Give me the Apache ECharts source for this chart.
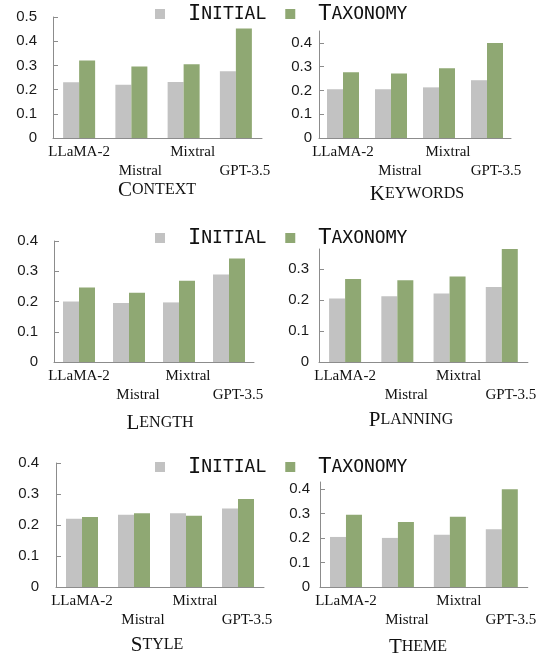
<!DOCTYPE html>
<html>
<head>
<meta charset="utf-8">
<script src="https://cdn.jsdelivr.net/npm/echarts@6/dist/echarts.min.js"></script>
<style>
  html, body { margin: 0; padding: 0; background: #fff; }
  #chart { width: 539px; height: 658px; }
</style>
</head>
<body>
<div id="chart"></div>
<script>
// Models compared in every panel
const categories = ['LLaMA-2', 'Mistral', 'Mixtral', 'GPT-3.5'];
const seriesNames = ['Initial', 'Taxonomy'];
const panelTitles = ['Context', 'Keywords', 'Length', 'Planning', 'Style', 'Theme'];

// Scores per aspect
const initialContext   = [0.230, 0.220, 0.231, 0.276];
const taxonomyContext  = [0.320, 0.295, 0.305, 0.452];
const initialKeywords  = [0.205, 0.205, 0.213, 0.243];
const taxonomyKeywords = [0.277, 0.271, 0.293, 0.400];
const initialLength    = [0.200, 0.195, 0.197, 0.289];
const taxonomyLength   = [0.246, 0.229, 0.269, 0.342];
const initialPlanning  = [0.205, 0.212, 0.221, 0.242];
const taxonomyPlanning = [0.268, 0.264, 0.276, 0.365];
const initialStyle     = [0.220, 0.233, 0.238, 0.253];
const taxonomyStyle    = [0.226, 0.238, 0.230, 0.284];
const initialTheme     = [0.205, 0.201, 0.214, 0.236];
const taxonomyTheme    = [0.296, 0.266, 0.288, 0.400];

// Axis ranges and tick labels per panel
const axisMax = [0.5, 0.45, 0.4, 0.365, 0.4, 0.43];
const tickValues = [
  [0, 0.1, 0.2, 0.3, 0.4, 0.5],
  [0, 0.1, 0.2, 0.3, 0.4],
  [0, 0.1, 0.2, 0.3, 0.4],
  [0, 0.1, 0.2, 0.3],
  [0, 0.1, 0.2, 0.3, 0.4],
  [0, 0.1, 0.2, 0.3, 0.4]
];

const panelData = [
  [initialContext, taxonomyContext],
  [initialKeywords, taxonomyKeywords],
  [initialLength, taxonomyLength],
  [initialPlanning, taxonomyPlanning],
  [initialStyle, taxonomyStyle],
  [initialTheme, taxonomyTheme]
];

// Layout of the six plotting areas
const grids = [
  { left: 53,  top: 17,  width: 209, height: 121, labelMargin: 16, titleX: 157, titleY: 190 },
  { left: 319, top: 31,  width: 192, height: 107, labelMargin: 7,  titleX: 417, titleY: 194 },
  { left: 54,  top: 241, width: 200, height: 121, labelMargin: 16, titleX: 160, titleY: 423 },
  { left: 319, top: 249, width: 210, height: 113, labelMargin: 10, titleX: 411, titleY: 420 },
  { left: 56,  top: 463, width: 208, height: 124, labelMargin: 17, titleX: 157, titleY: 645 },
  { left: 320, top: 482, width: 209, height: 105, labelMargin: 10, titleX: 418, titleY: 647 }
];
const legendCenters = [13, 237, 466];

const colors = ['#c2c2c2', '#8fa873'];
const axisColor = '#8c8c8c';
const serif = '"Liberation Serif", "Times New Roman", serif';
const sans = '"Liberation Sans", Arial, sans-serif';
const mono = '"DejaVu Sans Mono", monospace';

function smallCaps(word) {
  return '{b|' + word.charAt(0).toUpperCase() + '}{s|' + word.slice(1).toUpperCase() + '}';
}

const option = {
  animation: false,
  backgroundColor: '#ffffff',
  grid: grids.map(g => ({ left: g.left, top: g.top, width: g.width, height: g.height, containLabel: false })),
  title: grids.map((g, i) => ({
    text: smallCaps(panelTitles[i]),
    left: g.titleX,
    top: g.titleY - 11,
    textAlign: 'center',
    padding: 0,
    textStyle: {
      fontWeight: 'normal',
      lineHeight: 22,
      rich: {
        b: { fontFamily: serif, fontSize: 21, fontWeight: 'normal', color: '#111', lineHeight: 22 },
        s: { fontFamily: serif, fontSize: 16, fontWeight: 'normal', color: '#111', lineHeight: 22 }
      }
    }
  })),
  legend: legendCenters.map(cy => ({
    data: seriesNames,
    left: 155,
    top: cy - 10,
    padding: 0,
    icon: 'rect',
    itemWidth: 10,
    itemHeight: 10,
    itemGap: 19,
    selectedMode: false,
    formatter: name => '{g|}' + smallCaps(name),
    textStyle: {
      lineHeight: 20,
      rich: {
        g: { width: 18 },
        b: { fontFamily: mono, fontSize: 22, color: '#111', lineHeight: 20 },
        s: { fontFamily: mono, fontSize: 18, color: '#111', lineHeight: 20 }
      }
    }
  })),
  xAxis: grids.map((g, i) => ({
    type: 'category',
    gridIndex: i,
    data: categories,
    axisLine: { show: true, lineStyle: { color: axisColor, width: 1 } },
    axisTick: { show: false },
    axisLabel: {
      interval: 0,
      margin: 5,
      fontFamily: serif,
      fontSize: 15,
      color: '#111',
      lineHeight: 19,
      formatter: (v, idx) => (idx % 2 ? '{r|\n' + v + '}' : (idx === 0 ? '{f|' + v + '}' : '{r|' + v + '}')),
      rich: {
        f: { fontFamily: serif, fontSize: 15, color: '#111', lineHeight: 19 },
        r: { fontFamily: serif, fontSize: 15, color: '#111', lineHeight: 19, padding: [0, 0, 0, 18] }
      }
    }
  })),
  yAxis: grids.map((g, i) => ({
    type: 'value',
    gridIndex: i,
    min: 0,
    max: axisMax[i],
    interval: 0.1,
    splitLine: { show: false },
    axisLine: { show: true, lineStyle: { color: axisColor, width: 1 } },
    axisTick: { show: true, inside: true, length: 5, customValues: tickValues[i], lineStyle: { color: axisColor } },
    axisLabel: {
      customValues: tickValues[i],
      margin: g.labelMargin,
      fontFamily: sans,
      fontSize: 15,
      color: '#1a1a1a',
      formatter: v => (v === 0 ? '0' : v.toFixed(1))
    }
  })),
  series: panelData.flatMap((pair, i) => pair.map((values, k) => ({
    name: seriesNames[k],
    type: 'bar',
    xAxisIndex: i,
    yAxisIndex: i,
    data: values,
    barWidth: 16,
    barGap: '0%',
    itemStyle: { color: colors[k] }
  })))
};

const chart = echarts.init(document.getElementById('chart'), null, { renderer: 'canvas' });
chart.setOption(option);
</script>
</body>
</html>
